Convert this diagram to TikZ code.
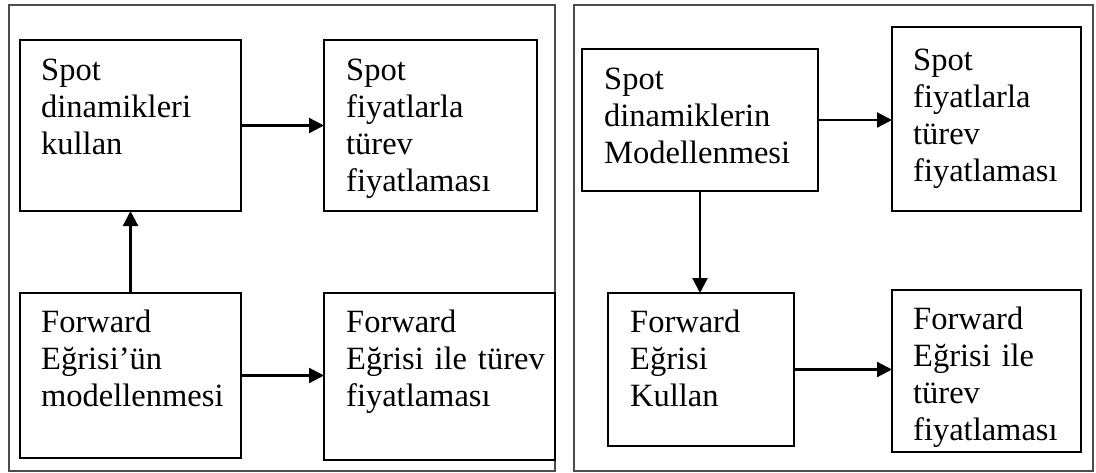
\documentclass[tikz,border=0pt]{standalone}
\usepackage{fontspec}
\setmainfont{Liberation Serif}
\usetikzlibrary{arrows.meta}
\begin{document}
\begin{tikzpicture}[x=1pt,y=-1pt,
  frame/.style={draw=black!70,line width=1.5pt,inner sep=0pt,outer sep=0pt,anchor=north west},
  boxnode/.style={draw=black,line width=2.2pt,inner sep=0pt,outer sep=0pt,anchor=north west},
  txt/.style={anchor=base west,inner sep=0pt,align=left,text width=230pt,
    font={\fontsize{32.5}{37}\selectfont}},
  conn/.style={draw=black,line width=2.2pt,-{Triangle[length=15pt,width=15pt]}}]
\useasboundingbox (0,0) rectangle (1096,472);
% outer frames
\node[frame,minimum width=546pt,minimum height=466pt] (L) at (9,5) {};
\node[frame,minimum width=519pt,minimum height=466pt] (R) at (574,5) {};
% left panel boxes
\node[boxnode,minimum width=221pt,minimum height=171pt] (A) at (20,40) {};
\node[boxnode,minimum width=213pt,minimum height=171pt] (B) at (324,40) {};
\node[boxnode,minimum width=221pt,minimum height=165pt] (C) at (20,293) {};
\node[boxnode,minimum width=231pt,minimum height=167pt] (D) at (324,293) {};
% right panel boxes
\node[boxnode,minimum width=236pt,minimum height=142pt] (E) at (582,49) {};
\node[boxnode,minimum width=189pt,minimum height=184pt] (F) at (892,27) {};
\node[boxnode,minimum width=186pt,minimum height=153pt] (G) at (608,293) {};
\node[boxnode,minimum width=189pt,minimum height=162pt] (H) at (892,290) {};
% texts
\node[txt] (tA) at (41,80) {Spot\\dinamikleri\\kullan};
\node[txt] (tB) at (346,80) {Spot\\fiyatlarla\\türev\\fiyatlaması};
\node[txt] (tC) at (41,332) {Forward\\Eğrisi’ün\\modellenmesi};
\node[txt] (tD) at (346,332) {Forward\\Eğrisi ile türev\\fiyatlaması};
\node[txt] (tE) at (604,89) {Spot\\dinamiklerin\\Modellenmesi};
\node[txt] (tF) at (913,70) {Spot\\fiyatlarla\\türev\\fiyatlaması};
\node[txt] (tG) at (630,332) {Forward\\Eğrisi\\Kullan};
\node[txt] (tH) at (913,329) {Forward\\Eğrisi ile\\türev\\fiyatlaması};
% connectors
\draw[conn] (A.east) -- (B.west);
\draw[conn] (C.north) -- (A.south);
\draw[conn] (C.east) -- (C.east -| D.west);
\draw[conn] (E.east) -- (E.east -| F.west);
\draw[conn] (E.south) -- (E.south |- G.north);
\draw[conn] (G.east) -- (G.east -| H.west);
\end{tikzpicture}
\end{document}
